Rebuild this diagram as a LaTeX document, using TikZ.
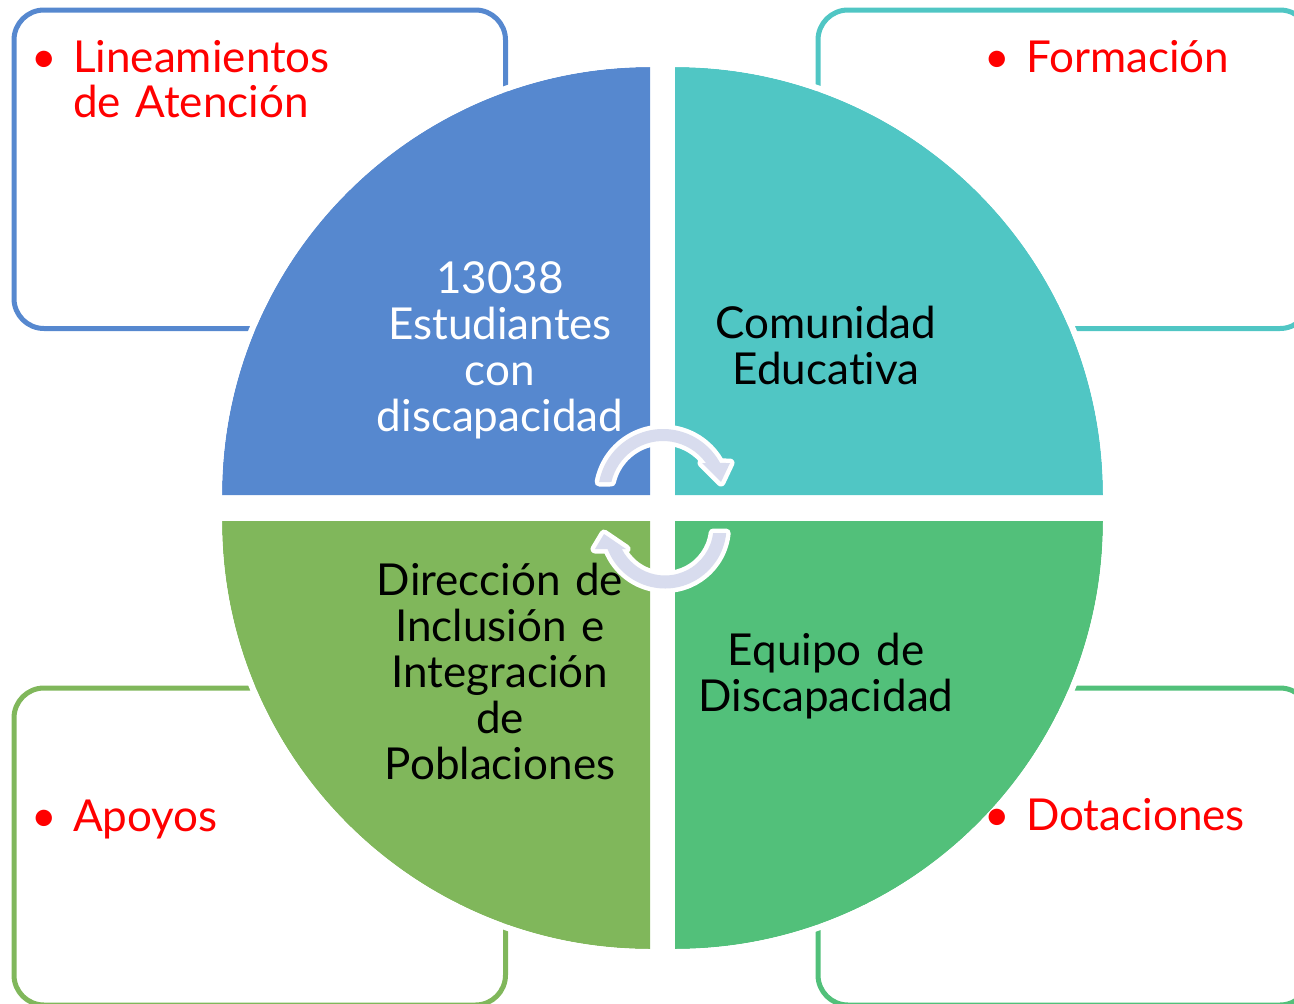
\documentclass[tikz,border=0pt]{standalone}
\usepackage{fontspec}
\setmainfont{Lato}[Ligatures={NoCommon}]
\usetikzlibrary{calc}
\definecolor{cBlue}{HTML}{5688CF}
\definecolor{cTeal}{HTML}{50C6C4}
\definecolor{cLGreen}{HTML}{80B75B}
\definecolor{cGreen}{HTML}{52C07A}
\definecolor{cLav}{HTML}{D8DCEE}
\tikzset{
  boxline/.style={line width=5pt, rounded corners=30pt},
  pieedge/.style={draw=white, line width=6pt},
  pielabel/.style={font=\fontsize{44}{46}\selectfont, align=center, text width=320pt, inner sep=0pt, anchor=center},
  bullabel/.style={font=\fontsize{44}{45}\selectfont, text=red, align=left, text width=420pt, inner sep=0pt, anchor=base west},
  circarrow/.style={fill=cLav, preaction={draw=white, line width=9pt, line join=round}}
}
\newcommand{\bul}{\llap{\textbullet\hspace{16pt}}}
\begin{document}
\begin{tikzpicture}[x=1pt,y=1pt]
\useasboundingbox (0,0) rectangle (1294,-1004);
\clip (0,0) rectangle (1294,-1004);
% corner boxes
\draw[boxline, cBlue]   (14,-10)  rectangle (505.5,-328.5);
\draw[boxline, cTeal]   (818,-10) rectangle (1310,-328.5);
\draw[boxline, cLGreen] (14,-688) rectangle (505.5,-1005);
\draw[boxline, cGreen]  (818,-688) rectangle (1310,-1005);
% quarter sectors
\coordinate (ctl) at (650,-495);
\coordinate (ctr) at (675,-495);
\coordinate (cbl) at (650,-521);
\coordinate (cbr) at (675,-521);
\fill[cBlue]   (ctl) -- ++(180:428) arc[start angle=180, end angle=90, radius=428] -- cycle;
\fill[cTeal]   (ctr) -- ++(90:428) arc[start angle=90, end angle=0, radius=428] -- cycle;
\fill[cLGreen] (cbl) -- ++(270:428) arc[start angle=270, end angle=180, radius=428] -- cycle;
\fill[cGreen]  (cbr) -- ++(0:428) arc[start angle=360, end angle=270, radius=428] -- cycle;
\draw[pieedge] ($(ctl)+(180:431)$) arc[start angle=180, end angle=90, radius=431];
\draw[pieedge] ($(ctr)+(90:431)$) arc[start angle=90, end angle=0, radius=431];
\draw[pieedge] ($(cbl)+(270:431)$) arc[start angle=270, end angle=180, radius=431];
\draw[pieedge] ($(cbr)+(0:431)$) arc[start angle=360, end angle=270, radius=431];
% circular arrows
\coordinate (c1) at (663,-494);
\coordinate (c2) at (665,-527);
\path[circarrow] ($(c1)+(169.4:65)$) arc[start angle=169.4, end angle=28.5, radius=65]
  -- (730,-463) -- (721,-482) -- (702,-463)
  -- ($(c1)+(35.8:53)$) arc[start angle=35.8, end angle=166.9, radius=53] -- cycle;
\path[circarrow] ($(c2)+(-5.6:61.5)$) arc[start angle=-5.6, end angle=-159, radius=61.5]
  -- (595,-549) -- (604,-534) -- (626,-549)
  -- ($(c2)+(-153:48.5)$) arc[start angle=-153, end angle=-7.1, radius=48.5] -- cycle;
% sector labels
\node[pielabel, text=white] (est) at (500,-350) {13038\\Estudiantes\\con\\discapacidad};
\node[pielabel, text=black] (com) at (826,-345) {Comunidad\\Educativa};
\node[pielabel, text=black] (dir) at (500,-671) {Dirección de\\Inclusión e\\Integración\\de\\Poblaciones};
\node[pielabel, text=black] (equ) at (826,-676) {Equipo de\\Discapacidad};
% bullet labels
\node[bullabel] (lin) at (73,-72) {\bul Lineamientos\\de Atención};
\node[bullabel] (for) at (1026,-72) {\bul Formación};
\node[bullabel] (apo) at (73,-831) {\bul Apoyos};
\node[bullabel] (dot) at (1026,-830) {\bul Dotaciones};
\end{tikzpicture}
\end{document}
